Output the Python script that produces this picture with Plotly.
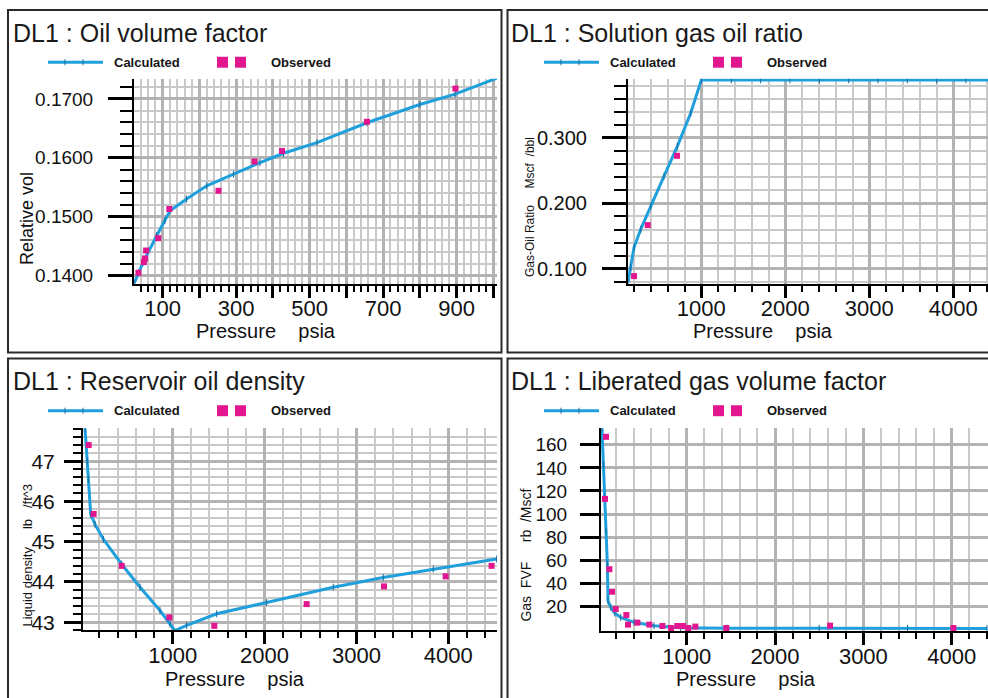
import plotly.graph_objects as go

W, H = 988, 698

# ---------------- data ----------------
# Panel 1: Oil volume factor
oil_p_calc = [22, 47, 84, 106, 120, 165, 220, 293, 365, 429, 520, 656, 800, 896, 1011]
oil_bo_calc = [0.13862, 0.14228, 0.14679, 0.14932, 0.15101, 0.15299, 0.15524, 0.15721,
               0.15918, 0.16076, 0.16256, 0.16594, 0.16904, 0.17080, 0.17355]
oil_p_obs = [34, 49, 52, 55, 88, 118, 252, 350, 425, 656, 897]
oil_bo_obs = [0.14048, 0.14228, 0.14290, 0.14425, 0.14634, 0.15130, 0.15439, 0.15935,
              0.16115, 0.16611, 0.17174]

# Panel 2: Solution gas oil ratio
gor_p_calc = [127, 159, 199, 279, 398, 556, 714, 874, 1000, 1357, 1706, 2056, 2405,
              2754, 3103, 3452, 3801, 4150, 4499]
gor_rs_calc = [0.0797, 0.1025, 0.1329, 0.1607, 0.1961, 0.2417, 0.2872, 0.3380, 0.3886,
               0.3886, 0.3886, 0.3886, 0.3886, 0.3886, 0.3886, 0.3886, 0.3886, 0.3886, 0.3886]
gor_p_obs = [199, 362, 711, 952]
gor_rs_obs = [0.0889, 0.1668, 0.2727, 0.3927]

# Panel 3: Reservoir oil density
dens_p_calc = [46, 71, 82, 108, 155, 246, 445, 645, 862, 971, 1025, 1152, 1479, 2023,
               2748, 3292, 3836, 4526]
dens_calc = [47.82, 47.0, 46.55, 45.68, 45.43, 45.06, 44.44, 43.87, 43.29, 42.96, 42.79,
             42.92, 43.21, 43.49, 43.87, 44.11, 44.32, 44.57]
dens_p_obs = [86, 140, 445, 964, 1453, 2458, 3300, 3971, 4471]
dens_obs = [47.40, 45.69, 44.40, 43.12, 42.91, 43.45, 43.89, 44.14, 44.40]

# Panel 4: Liberated gas volume factor
gas_p_calc = [41, 57, 72, 87, 102, 109, 140, 185, 253, 404, 630, 932, 1460, 2500, 3500, 4400]
gas_bg_calc = [174.4, 142.8, 114.1, 85.3, 56.5, 24.9, 19.2, 14.3, 10.5, 6.2, 3.3, 1.6,
               1.1, 1.0, 1.0, 0.9]
gas_p_obs = [87, 75, 125, 155, 196, 317, 336, 442, 577, 725, 823, 894, 958, 1019, 1098,
             1449, 2623, 4019]
gas_bg_obs = [166.9, 113.1, 52.2, 32.7, 17.7, 12.5, 4.2, 5.9, 4.2, 3.0, 1.3, 3.0, 3.0,
              1.3, 2.5, 1.3, 3.3, 1.3]

titles = ["DL1 : Oil volume factor", "DL1 : Solution gas oil ratio",
          "DL1 : Reservoir oil density", "DL1 : Liberated gas volume factor"]
NB = "\u00a0"
ytitles = ["Relative" + NB + "vol",
           "Gas-Oil" + NB + "Ratio" + NB * 5 + "Mscf" + NB * 2 + "/bbl",
           "Liquid" + NB + "density" + NB * 5 + "lb" + NB * 3 + "/ft^3",
           "Gas" + NB * 2 + "FVF" + NB * 5 + "rb" + NB * 2 + "/Mscf"]
xtitle = "Pressure" + NB * 4 + "psia"

# ---------------- styling ----------------
FONT = "Liberation Sans, Arial, sans-serif"
BLUE = "#1f9fdc"
TICKBLUE = "#1a6c9c"
MAG = "#e2168f"
GRID_MAJ = "#b3b3b3"
GRID_MIN = "#c9c9c9"
TXT = "#111111"


def fx(p):
    return p / W


def fy(p):
    return 1 - p / H


def xaxis(dom, rng, tickvals, ticktext, minor_dtick, anchor):
    return dict(domain=[fx(dom[0]), fx(dom[1])], range=rng, anchor=anchor,
                tickmode="array", tickvals=tickvals, ticktext=ticktext,
                ticks="outside", ticklen=12, tickwidth=3, tickcolor="black",
                showline=True, linecolor="black", linewidth=2,
                showgrid=True, gridcolor=GRID_MAJ, gridwidth=2.5, zeroline=False,
                tickfont=dict(family=FONT, size=22, color=TXT),
                ticklabelstandoff=-8,
                minor=dict(tickmode="linear", tick0=0, dtick=minor_dtick, ticks="outside",
                           ticklen=6, tickwidth=1.5, tickcolor="black",
                           showgrid=True, gridcolor=GRID_MIN, gridwidth=1.5),
                fixedrange=True)


def yaxis(dom, rng, tickvals, ticktext, minor_dtick, anchor, ticklen, size, standoff):
    d = dict(domain=[fy(dom[1]), fy(dom[0])], range=rng, anchor=anchor,
             tickmode="array", tickvals=tickvals, ticktext=ticktext,
             ticks="outside", ticklen=ticklen, tickwidth=3, tickcolor="black",
             showline=True, linecolor="black", linewidth=2,
             showgrid=True, gridcolor=GRID_MAJ, gridwidth=2.5, zeroline=False,
             tickfont=dict(family=FONT, size=size, color=TXT),
             ticklabelstandoff=standoff, fixedrange=True)
    if minor_dtick:
        d["minor"] = dict(tickmode="linear", tick0=0, dtick=minor_dtick, ticks="outside",
                          ticklen=ticklen // 2, tickwidth=1.5, tickcolor="black",
                          showgrid=True, gridcolor=GRID_MIN, gridwidth=1.5)
    return d


fig = go.Figure()

series = [
    (oil_p_calc, oil_bo_calc, oil_p_obs, oil_bo_obs),
    (gor_p_calc, gor_rs_calc, gor_p_obs, gor_rs_obs),
    (dens_p_calc, dens_calc, dens_p_obs, dens_obs),
    (gas_p_calc, gas_bg_calc, gas_p_obs, gas_bg_obs),
]
for i, (xc, yc, xo, yo) in enumerate(series):
    ax = "" if i == 0 else str(i + 1)
    fig.add_trace(go.Scatter(x=xc, y=yc, mode="lines+markers", xaxis="x" + ax, yaxis="y" + ax,
                             line=dict(color=BLUE, width=3),
                             marker=dict(symbol="line-ns", size=5,
                                         line=dict(color=TICKBLUE, width=1)),
                             showlegend=False, hoverinfo="skip"))
    fig.add_trace(go.Scatter(x=xo, y=yo, mode="markers", xaxis="x" + ax, yaxis="y" + ax,
                             marker=dict(symbol="square", size=6, color=MAG),
                             cliponaxis=False, showlegend=False, hoverinfo="skip"))

# panel geometry (pixels)
p1x, p1y = (134, 497), (79, 285)
p2x, p2y = (628, 988), (79, 285)
p3x, p3y = (83, 497), (430, 633)
p4x, p4y = (601, 988), (430, 634)

x1_vals = list(range(100, 1001, 100))
x1_text = [str(v) if (v // 100) % 2 == 1 else "" for v in x1_vals]
big_vals = [1000, 2000, 3000, 4000]
big_text = ["1000", "2000", "3000", "4000"]

layout = dict(
    width=W, height=H, margin=dict(l=0, r=0, t=0, b=0), autosize=False,
    paper_bgcolor="white", plot_bgcolor="white",
    xaxis=xaxis(p1x, [22, 1010], x1_vals, x1_text, 20, "y"),
    yaxis=yaxis(p1y, [0.13860, 0.17343], [0.14, 0.15, 0.16, 0.17],
                ["0.1400", "0.1500", "0.1600", "0.1700"], 0.002, "x", 24, 19, 11),
    xaxis2=xaxis(p2x, [127, 4413], big_vals, big_text, 200, "y2"),
    yaxis2=yaxis(p2y, [0.0772, 0.3905], [0.1, 0.2, 0.3],
                 ["0.100", "0.200", "0.300"], 0.02, "x2", 24, 20, 11),
    xaxis3=xaxis(p3x, [24, 4530], big_vals, big_text, 200, "y3"),
    yaxis3=yaxis(p3y, [42.80, 47.82], [43, 44, 45, 46, 47],
                 ["43", "44", "45", "46", "47"], 0.2, "x3", 17, 21, 5),
    xaxis4=xaxis(p4x, [30, 4411], big_vals, big_text, 200, "y4"),
    yaxis4=yaxis(p4y, [-1.56, 174.4], list(range(20, 161, 20)),
                 [str(v) for v in range(20, 161, 20)], None, "x4", 19, 19, 9),
)
fig.update_layout(**layout)

shapes = []
annotations = []

# panel frames
frames = [(8, 10, 501.5, 354), (507.5, 10, 996, 354), (8, 360, 501.5, 705), (507.5, 360, 996, 705)]
for (x0, y0, x1, y1) in frames:
    shapes.append(dict(type="rect", xref="paper", yref="paper", x0=fx(x0), x1=fx(x1),
                       y0=fy(y1), y1=fy(y0), line=dict(color="#2a2a2a", width=2),
                       fillcolor="rgba(0,0,0,0)", layer="above"))

# titles, legends
origins = [(0, 0), (496, 0), (0, 350), (496, 350)]
for i, (ox, oy) in enumerate(origins):
    annotations.append(dict(text=titles[i], xref="paper", yref="paper",
                            x=fx(11 + ox + (2 if i % 2 else 0)), y=fy(33 + oy),
                            xanchor="left", yanchor="middle", showarrow=False,
                            font=dict(family=FONT, size=25, color="#1a1a1a")))
    ly = 62.5 + oy
    shapes.append(dict(type="line", xref="paper", yref="paper", x0=fx(48 + ox), x1=fx(103 + ox),
                       y0=fy(ly), y1=fy(ly), line=dict(color=BLUE, width=3)))
    for tx in (65, 83):
        shapes.append(dict(type="line", xref="paper", yref="paper", x0=fx(tx + ox), x1=fx(tx + ox),
                           y0=fy(ly - 3), y1=fy(ly + 3), line=dict(color=TICKBLUE, width=1)))
    for sx in (217, 235):
        shapes.append(dict(type="rect", xref="paper", yref="paper", x0=fx(sx + ox), x1=fx(sx + 11 + ox),
                           y0=fy(ly + 5.5), y1=fy(ly - 5.5), fillcolor=MAG, line=dict(width=0)))
    annotations.append(dict(text="<b>Calculated</b>", xref="paper", yref="paper", x=fx(112 + ox), y=fy(ly),
                            xanchor="left", yanchor="middle", showarrow=False,
                            font=dict(family=FONT, size=13, color="#151515")))
    annotations.append(dict(text="<b>Observed</b>", xref="paper", yref="paper", x=fx(269 + ox), y=fy(ly),
                            xanchor="left", yanchor="middle", showarrow=False,
                            font=dict(family=FONT, size=13, color="#151515")))

# axis titles
xt_pos = [(266, 332), (763, 332), (235, 682), (746, 682)]
for (x, y) in xt_pos:
    annotations.append(dict(text=xtitle, xref="paper", yref="paper", x=fx(x), y=fy(y),
                            xanchor="center", yanchor="middle", showarrow=False,
                            font=dict(family=FONT, size=20, color=TXT)))
yt_pos = [(27, 220, 18), (530, 208, 12), (28, 558, 13), (526, 558, 14)]
for i, (x, y, s) in enumerate(yt_pos):
    annotations.append(dict(text=ytitles[i], xref="paper", yref="paper", x=fx(x), y=fy(y),
                            xanchor="center", yanchor="middle", showarrow=False, textangle=-90,
                            font=dict(family=FONT, size=s, color=TXT)))

fig.update_layout(shapes=shapes, annotations=annotations)
fig.write_html("out.html")
